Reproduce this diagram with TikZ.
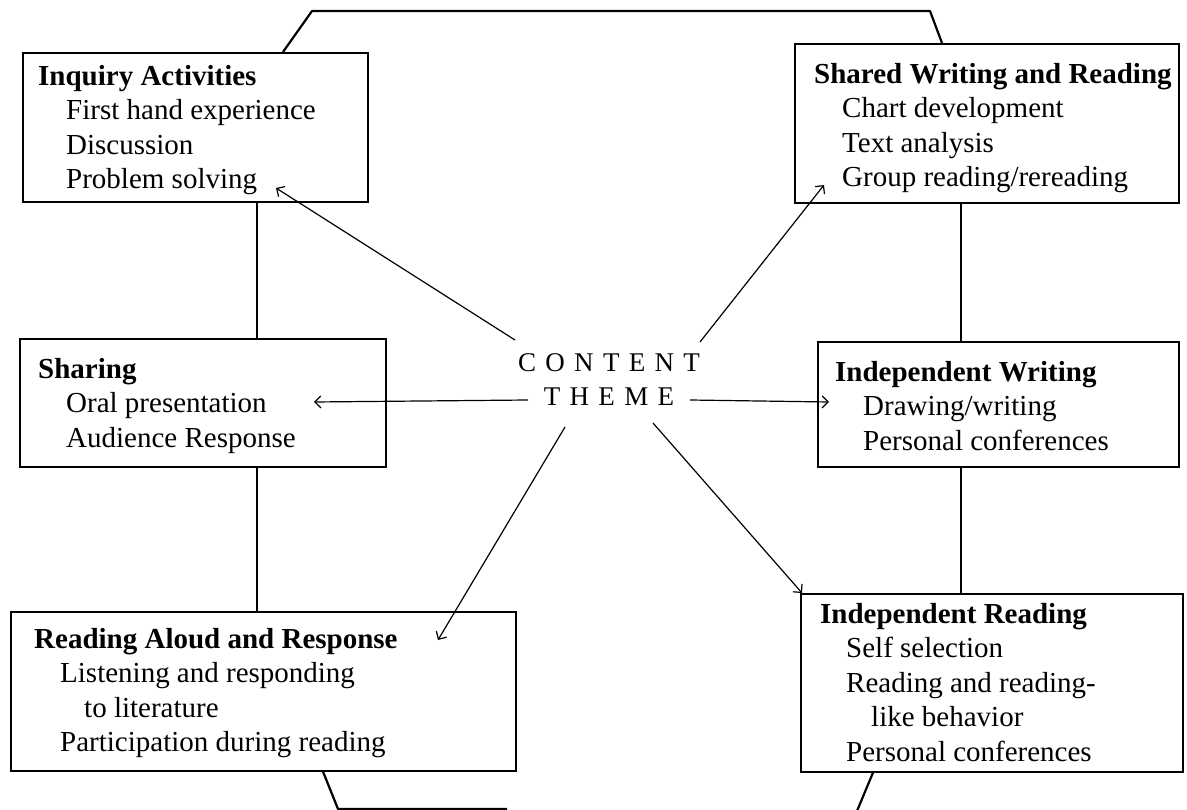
\documentclass[tikz,border=0pt]{standalone}
\usepackage{fontspec}
\setmainfont{Liberation Serif}
\usetikzlibrary{arrows.meta,calc}
\newcommand\lsp{\hspace{9.3pt}}
\newcommand\ind{\hspace*{28pt}}
\begin{document}
\begin{tikzpicture}[x=1pt,y=-1pt,
  box/.style={draw,line width=1.6pt,anchor=north west,inner sep=0pt},
  txt/.style={anchor=north west,inner sep=0pt,align=left,font=\fontsize{29}{34.5}\selectfont},
  theme/.style={inner sep=0pt,align=center,font=\fontsize{27}{34}\selectfont},
  link/.style={line width=1.6pt},
  outline/.style={line width=2.2pt,line join=round},
  arr/.style={line width=1.2pt,-{Straight Barb[length=6pt,width=12pt,line width=1.2pt]}}]
\useasboundingbox (0,0) rectangle (1187,810);
\fill[white] (0,0) rectangle (1187,810);

% boxes
\node[box,minimum width=345pt,minimum height=149pt] (inq) at (22,52) {};
\node[box,minimum width=384pt,minimum height=159pt] (shr) at (794,43) {};
\node[box,minimum width=366pt,minimum height=128pt] (sha) at (19,338) {};
\node[box,minimum width=361pt,minimum height=125pt] (iwr) at (817,341) {};
\node[box,minimum width=505pt,minimum height=159pt] (rda) at (10,611) {};
\node[box,minimum width=382pt,minimum height=178pt] (ird) at (800,593) {};

% texts
\node[txt] (inqT) at (38,65) {\textbf{Inquiry Activities}\\ \ind First hand experience\\ \ind Discussion\\ \ind Problem solving};
\node[txt] (shrT) at (814,63) {\textbf{Shared Writing and Reading}\\ \ind Chart development\\ \ind Text analysis\\ \ind Group reading/rereading};
\node[txt] (shaT) at (38,358) {\textbf{Sharing}\\ \ind Oral presentation\\ \ind Audience Response};
\node[txt] (iwrT) at (835,361) {\textbf{Independent Writing}\\ \ind Drawing/writing\\ \ind Personal conferences};
\node[txt] (rdaT) at (34,628) {\textbf{Reading Aloud and Response}\\ \hspace*{26pt}Listening and responding\\ \hspace*{50pt}to literature\\ \hspace*{26pt}Participation during reading};
\node[txt] (irdT) at (820,603) {\textbf{Independent Reading}\\ \hspace*{26pt}Self selection\\ \hspace*{26pt}Reading and reading-\\ \hspace*{51pt}like behavior\\ \hspace*{26pt}Personal conferences};

\node[theme] (th) at (609,380) {C\lsp O\lsp N\lsp T\lsp E\lsp N\lsp T\\T\lsp H\lsp E\lsp M\lsp E};

% vertical links
\draw[link] (257,0 |- inq.south) -- (257,0 |- sha.north);
\draw[link] (257,0 |- sha.south) -- (257,0 |- rda.north);
\draw[link] (961,0 |- shr.south) -- (961,0 |- iwr.north);
\draw[link] (961,0 |- iwr.south) -- (961,0 |- ird.north);

% outline
\coordinate (tl) at (312,11);
\coordinate (tr) at (930,11);
\coordinate (bl) at (338,809);
\coordinate (bm) at (507,809);
\coordinate (br) at (857,811);
\draw[outline] (283,0 |- inq.north) -- (tl) -- (tr) -- (942,0 |- shr.north);
\draw[outline] (323,0 |- rda.south) -- (bl) -- (bm);
\draw[outline] (873,0 |- ird.south) -- (br);

% arrows from the theme
\coordinate (sUL) at (515,340);
\coordinate (sUR) at (700,342);
\coordinate (sL) at (528,400);
\coordinate (sR) at (690,400);
\coordinate (sDL) at (565,427);
\coordinate (sDR) at (653,423);
\coordinate (tUL) at (276,188);
\coordinate (tUR) at (824,185);
\coordinate (tL) at (314,402);
\coordinate (tR) at (829,402);
\coordinate (tDL) at (438,640);
\coordinate (tDR) at (802,593);
\draw[arr] (sUL) -- (tUL);
\draw[arr] (sUR) -- (tUR);
\draw[arr] (sL) -- (tL);
\draw[arr] (sR) -- (tR);
\draw[arr] (sDL) -- (tDL);
\draw[arr] (sDR) -- (tDR);
\end{tikzpicture}
\end{document}
